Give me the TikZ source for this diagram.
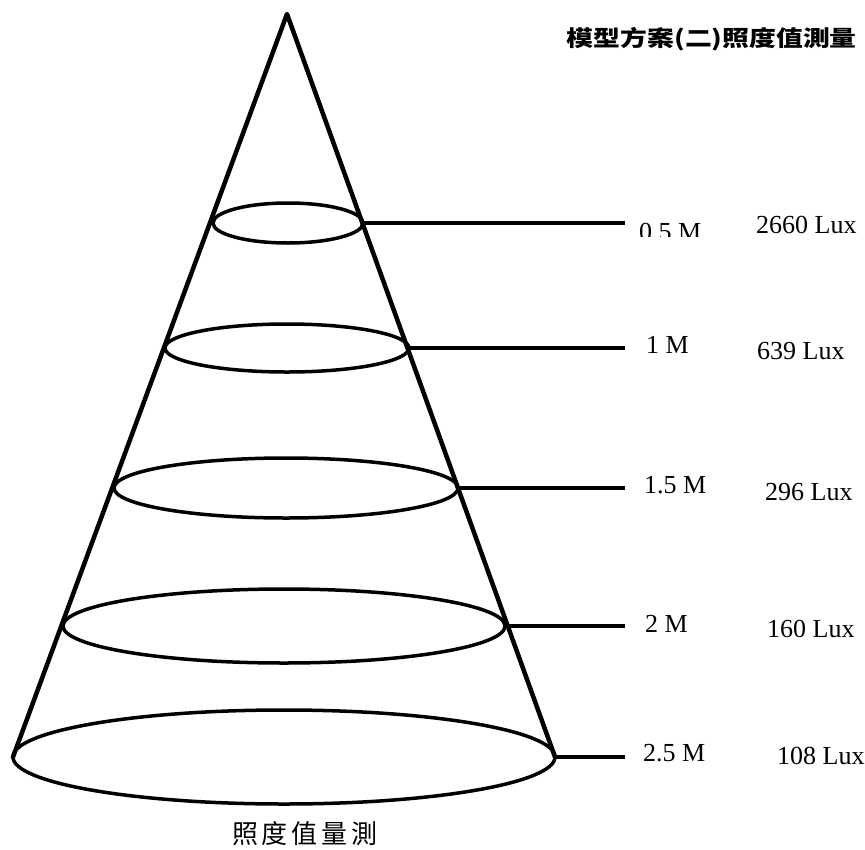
\documentclass[tikz,border=0pt]{standalone}
\usepackage{fontspec}
\setmainfont{Liberation Serif}
\newfontfamily\cjk{Noto Sans CJK TC}
\usetikzlibrary{shapes.geometric}
\tikzset{
  ring/.style={draw, ellipse, line width=3.5pt, inner sep=0pt, outer sep=0pt},
  coneline/.style={line width=4.5pt, line cap=round, line join=round},
  tick/.style={line width=3.5pt},
  lbl/.style={anchor=base west, inner sep=0pt, font=\fontsize{26}{26}\selectfont},
}
\begin{document}
\begin{tikzpicture}[x=1pt,y=-1pt]
\useasboundingbox (0,0) rectangle (865,849);
% ellipses
\node[ring, minimum width=150pt, minimum height=40pt] (e1) at (288,223) {};
\node[ring, minimum width=244pt, minimum height=48pt] (e2) at (287,348) {};
\node[ring, minimum width=344pt, minimum height=60pt] (e3) at (286,488) {};
\node[ring, minimum width=442pt, minimum height=74pt] (e4) at (284,626) {};
\node[ring, minimum width=542pt, minimum height=94pt] (e5) at (284,757) {};
% cone
\coordinate (apex) at (287,14);
\draw[coneline] (e5.west) -- (apex) -- (e5.east);
% ticks
\coordinate (t1) at (625,223);
\coordinate (t2) at (625,348);
\coordinate (t3) at (625,488);
\coordinate (t4) at (625,626);
\coordinate (t5) at (625,757);
\draw[tick] (e1.east) -- (t1);
\draw[tick] (e2.east) -- (t2);
\draw[tick] (e3.east) -- (t3);
\draw[tick] (e4.east) -- (t4);
\draw[tick] (e5.east) -- (t5);
% labels
\begin{scope}
\clip (630,200) rectangle (740,236);
\node[lbl] (d1) at (639,240) {0.5 M};
\end{scope}
\node[lbl] (v1) at (756,233) {2660 Lux};
\node[lbl] (d2) at (646,353) {1 M};
\node[lbl] (v2) at (757,359) {639 Lux};
\node[lbl] (d3) at (644,493) {1.5 M};
\node[lbl] (v3) at (765,500) {296 Lux};
\node[lbl] (d4) at (645,632) {2 M};
\node[lbl] (v4) at (767,637) {160 Lux};
\node[lbl] (d5) at (643,761) {2.5 M};
\node[lbl] (v5) at (777,764) {108 Lux};
% titles
\node[anchor=east, inner sep=0pt] (title) at (857,39)
  {\scalebox{1.22}[1]{\cjk\bfseries\fontsize{22}{22}\selectfont 模型方案(二)照度值測量}};
\node[anchor=center, inner sep=0pt] (caption) at (305,834)
  {\cjk\fontsize{26}{26}\selectfont 照\kern4pt度\kern4pt值\kern4pt量\kern4pt測};
\end{tikzpicture}
\end{document}
